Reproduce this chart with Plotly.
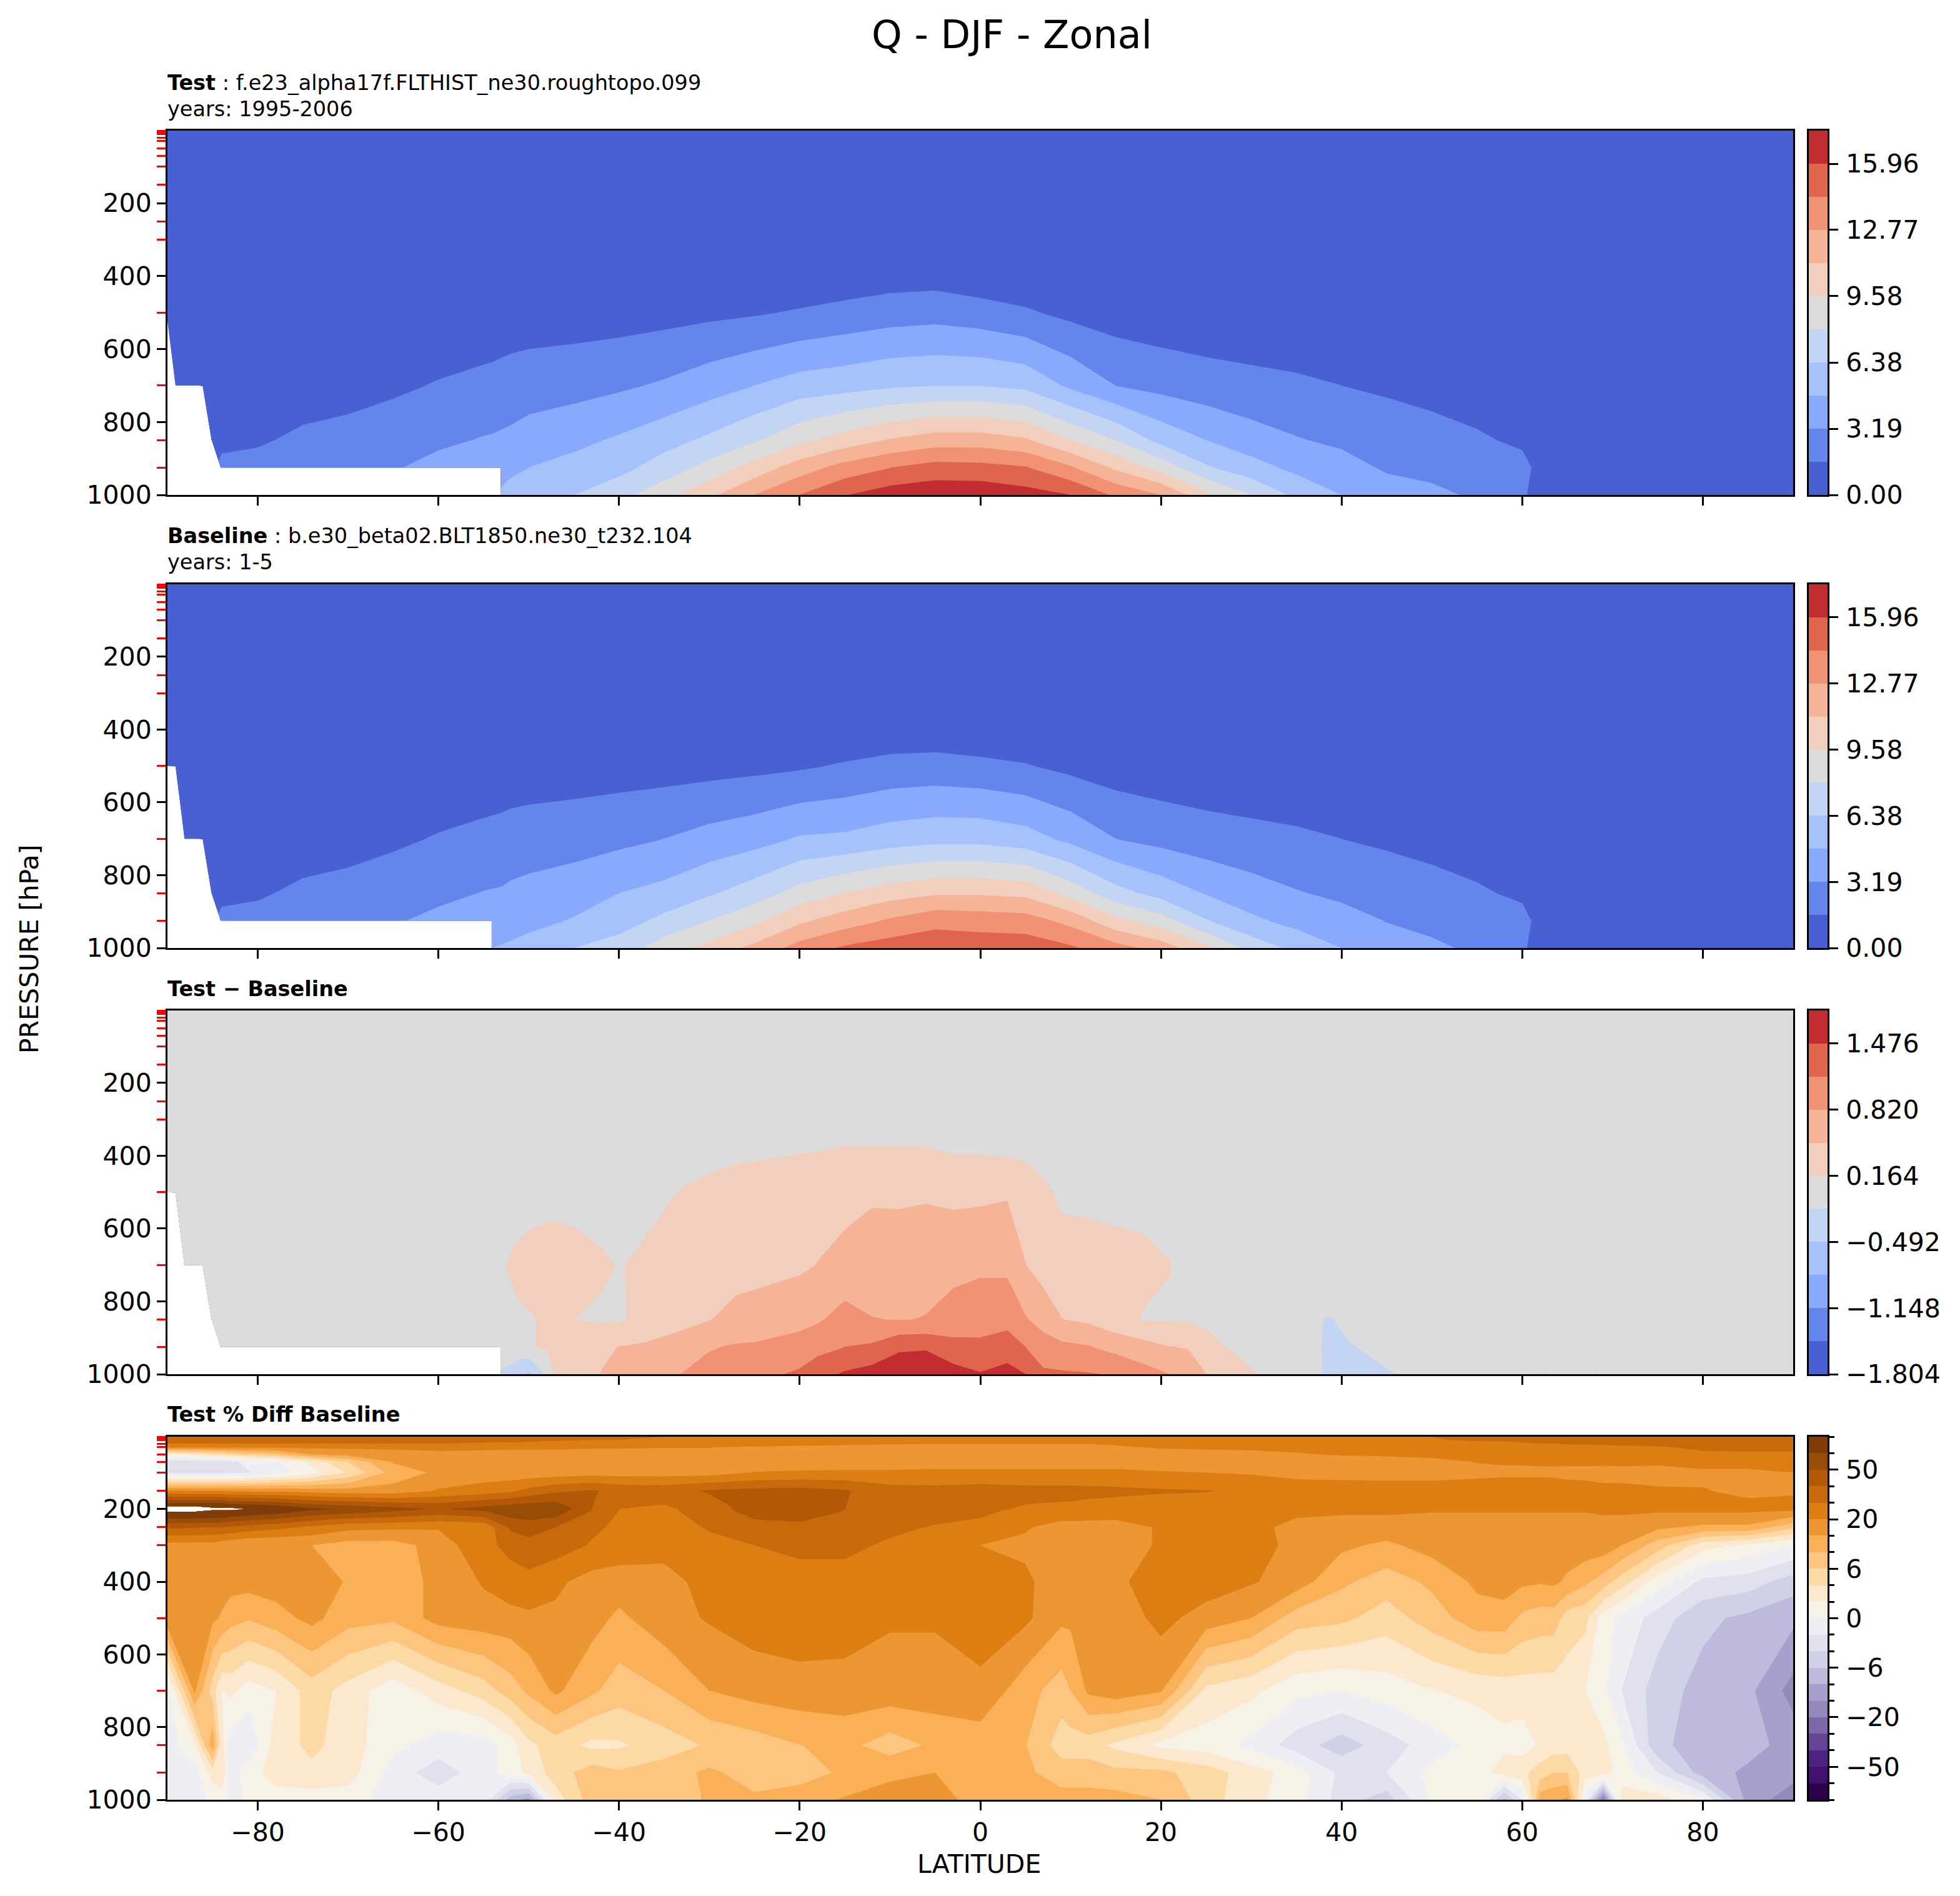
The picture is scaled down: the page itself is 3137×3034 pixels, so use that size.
import numpy as np
import plotly.graph_objects as go

W, H = 3137, 3034
PAGE_X, PAGE_Y = 8, 6  # the browser's body margin moves the whole figure by about this much

# pressure levels of the model grid (red ticks)
PLEV = [1, 2, 3, 5, 7, 10, 20, 30, 50, 70, 100, 150, 200, 250, 300, 400, 500, 700, 850, 925, 1000]
XTICKS = [-80, -60, -40, -20, 0, 20, 40, 60, 80]
YTICKS = [200, 400, 600, 800, 1000]

# --- Q panels: latitude grid and rows by pressure ---
LAT_Q = [-90, -89, -88, -87, -86, -85, -84, -80, -75, -70, -65, -60, -55, -54, -53, -52, -50,
         -45, -40, -35, -30, -25, -20, -15, -10, -5, 0, 5, 10, 15, 20, 25, 30, 35, 40, 45, 50,
         55, 60, 61, 62, 70, 80, 90]
Q_P = [1, 300, 400, 500, 700, 850, 925, 1000]

Q_1 = [0.0] * 44
Q_300 = [0.05] * 44
TEST_400 = [.05, .05, .05, .05, .05, .05, .05, .05, .05, .05, .05, .05, .08, .08, .09, .09, .1,
            .1, .1, .15, .2, .3, .4, .6, .85, .93, .55, .47, .1, .08, .07, .06, .06, .05, .05, .05, .05,
            .05, .05, .05, .05, .05, .05, .05]
TEST_500 = [.1, .1, .12, .12, .14, .14, .15, .2, .25, .25, .35, .45, .6, .65, .7, .75, .8,
            .85, .9, 1.05, 1.25, 1.45, 1.75, 2.1, 2.45, 2.6, 2.3, 1.8, 1.2, .8, .6, .5, .45, .4, .35, .3, .25,
            .2, .15, .14, .13, .1, .05, .05]
TEST_700 = [.3, .35, .4, .45, .5, .52, .55, .7, .95, 1.1, 1.35, 1.7, 2.0, 2.05, 2.15, 2.25, 2.4,
            2.6, 2.95, 3.4, 4.1, 4.8, 5.5, 5.8, 6.2, 6.38, 6.38, 6.0, 4.5, 3.19, 2.7, 2.3, 2.05, 1.85, 1.6, 1.35, 1.15,
            1.0, .7, .65, .6, .4, .2, .15]
TEST_850 = [1.0, 1.05, 1.1, 1.15, 1.2, 1.25, 1.3, 1.45, 1.85, 2.05, 2.4, 2.9, 3.3, 3.35, 3.45, 3.55, 3.9,
            4.4, 5.0, 5.8, 6.7, 7.8, 9.2, 10.3, 11.3, 12.0, 12.0, 11.4, 9.58, 7.98, 5.9, 4.8, 3.9, 3.3, 2.9, 2.5, 2.1,
            1.75, 1.4, 1.25, 1.2, .9, .5, .4]
TEST_925 = [1.5, 1.55, 1.6, 1.7, 1.75, 1.85, 1.9, 2.0, 2.35, 2.6, 3.05, 3.7, 4.1, 4.2, 4.3, 4.55, 4.79,
            5.3, 5.9, 7.1, 8.5, 10.2, 12.0, 13.4, 14.36, 15.0, 14.9, 14.5, 13.0, 10.9, 9.0, 6.6, 5.4, 4.4, 3.8, 3.0, 2.8,
            2.4, 1.95, 1.6, 1.45, 1.1, .7, .6]
TEST_1000 = [1.7, 1.7, 1.8, 1.9, 1.9, 2.0, 2.1, 2.4, 2.8, 3.2, 3.7, 4.4, 4.8, 4.9, 5.0, 5.2, 5.6,
             6.38, 7.4, 9.0, 10.8, 12.8, 14.4, 15.9, 16.8, 17.1, 17.1, 16.6, 15.96, 14.1, 12.77, 10.0, 7.98, 6.0, 4.79, 3.95, 3.5,
             3.0, 1.7, 1.5, 1.4, 1.2, .8, .7]

BASE_400 = [.05, .05, .05, .05, .05, .05, .05, .05, .05, .05, .05, .05, .08, .08, .08, .09, .1,
            .1, .1, .1, .15, .2, .3, .4, .55, .6, .4, .35, .1, .08, .07, .06, .06, .05, .05, .05, .05,
            .05, .05, .05, .05, .05, .05, .05]
BASE_500 = [.1, .1, .12, .12, .14, .14, .15, .2, .25, .25, .35, .45, .6, .65, .7, .75, .8,
            .85, .9, .95, 1.05, 1.2, 1.4, 1.75, 2.1, 2.2, 2.0, 1.7, 1.2, .8, .6, .5, .45, .4, .35, .3, .25,
            .2, .15, .14, .13, .1, .05, .05]
BASE_700 = [.3, .35, .4, .45, .5, .52, .55, .7, .95, 1.1, 1.35, 1.7, 2.0, 2.05, 2.1, 2.2, 2.3,
            2.5, 2.8, 3.2, 3.75, 4.2, 4.95, 5.1, 5.6, 5.9, 5.9, 5.45, 4.4, 3.2, 2.7, 2.3, 2.05, 1.85, 1.6, 1.35, 1.15,
            1.0, .7, .65, .6, .4, .2, .15]
BASE_850 = [1.0, 1.05, 1.1, 1.15, 1.2, 1.25, 1.3, 1.45, 1.85, 2.05, 2.4, 2.85, 3.25, 3.3, 3.35, 3.5, 3.7,
            4.1, 4.8, 5.3, 6.2, 7.2, 8.6, 9.6, 10.5, 11.0, 11.0, 10.8, 9.0, 7.0, 5.8, 4.7, 3.9, 3.3, 2.9, 2.5, 2.1,
            1.75, 1.4, 1.25, 1.2, .9, .5, .4]
BASE_925 = [1.5, 1.55, 1.6, 1.7, 1.75, 1.85, 1.9, 2.0, 2.35, 2.6, 3.05, 3.55, 3.95, 4.0, 4.1, 4.2, 4.4,
            4.9, 5.7, 6.8, 8.0, 9.2, 10.9, 12.0, 13.0, 13.9, 13.7, 13.5, 12.3, 10.0, 8.7, 6.5, 5.1, 4.3, 3.75, 3.15, 2.8,
            2.4, 1.95, 1.6, 1.45, 1.1, .7, .6]
BASE_1000 = [1.7, 1.7, 1.8, 1.9, 1.9, 2.0, 2.1, 2.4, 2.8, 3.2, 3.7, 4.2, 4.7, 4.8, 4.9, 5.0, 5.3,
             6.38, 7.1, 8.8, 10.1, 11.6, 13.4, 14.6, 15.2, 15.4, 15.3, 15.3, 14.6, 13.4, 12.1, 9.9, 7.4, 5.9, 4.79, 3.9, 3.45,
             2.95, 1.7, 1.5, 1.4, 1.2, .8, .7]

# --- Test - Baseline ---
LAT_D = [-90, -89, -88, -87, -86, -85, -84, -60, -54, -53, -52, -51, -50, -49, -48, -47, -45,
         -42, -40, -39, -37, -33, -30, -27, -25, -20, -18, -15, -12, -9, -6, -3, 0, 3, 5, 7, 9,
         12, 15, 18, 21, 23, 25, 28, 31, 37, 38, 39, 41, 44, 46, 48, 62, 62.5, 63, 67.5, 68.2, 69, 90]
D_1 = [0.0] * 59
D_300 = [0.02] * 59
D_400 = [.02] * 17 + [.02, .02, .02, .03, .05, .09, .13, .14, .17, .18, .22, .22, .22, .21, .17,
                      .17, .15, .13, .06, .03, .03, .03, .02, .02, .02] + [.02] * 17
D_500 = [.02] * 8 + [.02, .02, .03, .03, .04, .05, .07, .08, .05, .05, .05, .06, .08, .18,
                     .24, .28, .3, .33, .35, .4, .45, .43, .45, .42, .43, .46, .35, .23, .11,
                     .11, .09, .08, .07, .05, .04, .03, .03, .02, .02] + [.02] * 12
D_700 = [.02] * 8 + [.05, .14, .19, .24, .27, .3, .3, .29, .29, .2, .155, .17, .22, .3,
                     .37, .36, .38, .44, .5, .58, .65, .7, .72, .72, .75, .75, .5, .36, .3,
                     .26, .25, .23, .17, .1, .05, .03, .03, .02, .02] + [.02] * 12
D_850 = [.02] * 8 + [.03, .05, .1, .13, .14, .17, .2, .2, .165, .13, .13, .17, .22, .39,
                     .48, .6, .63, .72, .78, .95, .83, .81, .83, .96, 1.05, 1.05, .85, .68, .5,
                     .43, .27, .15, .14, .13, .12, .08, .03, .02, -.17,
                     -.17, -.05, 0, 0, 0] + [.02] * 7
D_925 = [.02] * 8 + [0, 0, 0, .03, .1, .18, .2, .22, .3, .43, .5, .51, .55, .65,
                     .8, .85, .86, .95, 1.05, 1.15, 1.2, 1.42, 1.44, 1.25, 1.2, 1.3, 1.15, .98, .9,
                     .84, .72, .62, .5, .48, .25, .13, .05, .03, -.22,
                     -.25, -.18, -.1, -.05, 0] + [.02] * 7
D_1000 = [.02] * 8 + [-.1, -.2, -.25, -.4, -.55, -.3, -.1, .19, .32, .5, .58, .6, .68, .83,
                      .92, 1.0, 1.05, 1.2, 1.35, 1.52, 1.62, 1.72, 1.75, 1.62, 1.5, 1.6, 1.48, 1.2, 1.19,
                      1.17, 1.12, .95, .82, .65, .5, .33, .15, .05, -.2,
                      -.28, -.3, -.22, -.164, -.03, .03, .2, .03, 0, -.2, 0, .02]

# --- Test % Diff Baseline ---
LAT_P = [-90, -87, -85, -84, -83, -81, -78, -74, -70, -65, -60, -55, -52, -50, -47,
         -43, -40, -35, -30, -25, -20, -15, -10, -5, 0, 5, 9, 10, 12, 15,
         20, 25, 30, 35, 40, 45, 50, 55, 58, 60, 62, 63.5, 65, 67, 69, 71, 75, 80, 85, 90]
P_P = [1, 10, 20, 30, 50, 70, 100, 150, 200, 250, 300, 400, 500, 700, 850, 925, 1000]
P_1 = [37, 37, 37, 37, 37, 37, 36, 36, 35, 35, 34, 33, 33, 32, 32, 31, 31, 30, 30, 29, 28, 27, 26, 25, 25,
       25, 25, 25, 25, 26, 27, 27, 28, 28, 29, 29, 30, 31, 32, 33, 33, 33, 34, 34, 35, 35, 36, 37, 38, 38]
P_10 = [35, 35, 35, 35, 35, 35, 35, 34, 34, 34, 34, 33, 32, 32, 31, 30, 30, 29, 28, 27, 26, 25, 24, 23, 23,
        23, 23, 23, 23, 24, 25, 25, 26, 27, 28, 29, 29.5, 31, 31, 32, 32, 32, 33, 33, 33, 33, 34, 36, 37, 37]
P_20 = [30, 30, 30, 30, 30, 30, 30, 30, 30, 30, 30, 29, 29, 28, 27, 26, 26, 25, 25, 24, 23, 22, 21, 20.5, 20.5,
        20.5, 20.5, 20.5, 20.5, 21, 23, 23, 24, 25, 26, 26.5, 27, 28, 28.5, 29, 30, 30, 31, 31, 32, 32, 33, 36, 37, 37]
P_30 = [22, 22, 22, 22, 22, 22, 22, 22, 22, 22, 22, 21.5, 21, 21, 21, 20.5, 20.5, 20.2, 20.2, 19.5, 19, 18.5, 18, 18, 18,
        18, 18, 18, 18, 19.5, 21, 22, 23, 23, 24, 24.5, 25, 25.5, 26, 26, 26, 26.5, 27, 27, 27, 28, 29, 32, 33, 33]
P_50 = [1, 3, 4, 4, 5, 6, 8, 15, 17, 18, 19, 19, 19, 19, 19, 19, 19, 19, 19, 18, 18, 18, 18, 18, 18,
        18, 18, 18, 18, 18, 18, 18, 18, 19.5, 21, 22, 24, 24, 25, 25, 25, 25, 25, 26, 26, 26, 27, 28, 28, 28]
P_70 = [-3, -3, -3, -3, -2.3, -1.6, -.5, 2.6, 6, 15.5, 16, 17, 17, 17, 17, 17, 17, 17, 17, 17, 17, 17, 17, 17, 17,
        17, 17, 17, 17, 17, 17, 17, 17, 17, 17, 17, 18, 20.5, 21, 21, 21.5, 21.5, 22, 22, 22.5, 23, 23, 24, 24, 24]
P_100 = [-2.5, -2.5, -2.5, -2.5, -2.3, -2.1, -1, 1.2, 4.2, 12, 16, 17, 17, 17, 17.5, 18, 18, 18, 18, 20.5, 21.5, 22, 22, 23, 23,
         23, 23, 23, 23, 23, 21, 20, 19.5, 18, 18, 18, 18, 18.5, 19, 19, 19, 19, 18.5, 18.5, 18, 18, 17, 19, 19, 20]
P_150 = [21, 20, 20, 20, 19, 19, 19, 18, 17, 17, 21, 25, 28, 33, 38, 41, 37, 36, 41, 43, 44, 41, 34, 33, 34,
         33, 33, 33, 32.5, 32, 31, 30.5, 28, 27, 26, 25, 25, 26, 26, 26, 26, 25, 25, 24, 23, 23, 22, 20.5, 19, 19.5]
P_200 = [150, 150, 150, 150, 125, 120, 100, 80, 72, 60, 49, 60, 68, 70, 70, 40, 30, 28, 35, 45, 45, 40, 35, 36, 32,
         29, 28, 28, 27, 26, 25, 24, 23, 22, 22, 22, 21, 21, 21, 21, 21, 21, 21, 21, 22, 22, 22, 23, 23, 23]
P_250 = [42, 41, 40, 40, 39, 36, 33, 28, 23, 22, 21, 22, 42, 45, 40, 32, 28, 25, 31, 36, 38, 37, 33, 29, 28,
         21, 18, 18, 18, 18, 21, 25, 22, 19, 18, 18, 18, 18, 18, 18, 18, 18, 18, 18, 18, 18, 16, 14, 14, 7]
P_300 = [18, 18, 18, 17, 16, 15, 15, 15, 13, 13, 17, 28, 32, 36, 35, 29, 26, 22, 27, 30, 33, 33, 28, 24, 20,
         19, 18, 18, 18, 18, 21, 27, 26, 18, 16, 14, 17, 18, 18, 19, 19, 18, 18, 18, 18, 15, 8, 2.8, 1.5, 0]
P_400 = [17, 17, 17, 17, 17, 17, 17.5, 18, 14.5, 13, 16, 21, 27, 27, 22, 18, 17.5, 19, 22, 27, 25, 25, 25, 25, 26,
         22, 17, 17, 17, 19, 25, 25, 21, 17.5, 11, 8, 11, 16, 17, 16, 15.5, 16, 14, 11, 8, 5, 1, -2.5, -3, -5]
P_500 = [19, 17, 16, 14.5, 12, 10.5, 13, 16.5, 12, 11, 17, 18, 18, 19, 19, 17, 14, 18, 21, 25, 26, 25, 21, 21, 24,
         22, 16, 16, 16, 17, 23, 18, 15, 8, 7, 5, 8, 13, 13, 9, 8, 8, 5, 4.5, 1, -.5, -3, -5.5, -7, -9]
P_700 = [-1, 16, 5, 2, 2.5, 1, 2, 5, 3.2, .7, 3, 5, 8, 11, 16, 11, 8, 10, 15, 17, 18, 18, 18, 18, 19,
         12, 8, 10, 16, 18, 15.5, 3.5, 2.5, .5, 0, 1, 1.9, 2.5, 2.8, 3, 3, 3, 3, 2, .5, -2, -5, -7.5, -9, -17]
P_850 = [-1, 1.5, 14, 3, -1, -1.9, 3, 4.5, 3, .5, -1, -1, 1, 3.5, 5, 3.5, 3.7, 5, 6.5, 8, 9.9, 11.5, 8, 11, 12,
         10.2, 5, 5, 5, 3.5, 1.5, 1, -.5, -3, -5, -3, -1, .7, 1.5, 1, 2.3, 3, 3, 3, 2.5, .5, -5.5, -8, -8.5, -12]
P_925 = [-1, -1, 3, 4, -1, 1, 3, 3.5, 3, -1, -3, -1, 1, 2.5, 5, 8, 6.5, 8, 11, 8, 8, 11, 14, 15, 11,
         11, 8, 8, 8, 7, 7, 5, 3, 1, -2.5, -2, .5, 1, 3, 3.5, 5, 6, 6, 3, 3, 1, -2, -8, -11, -13]
P_1000 = [-1, -1, .5, .7, -1, .5, 1, 1, 1, -1, -1, -1, -8, -12, 3, 8, 8, 8, 10.5, 11, 13, 15.5, 17, 16, 14,
          13, 12, 12, 12, 12, 10, 5, 2.5, 1, -3, -5, .5, 1.5, -7, -2, 13, 14, 16, -1, -20, 3, 3, 0, -12, -18]
PCT_LEVELS = [-100, -75, -50, -40, -30, -20, -15, -10, -6, -4, -2, 0, 2, 4, 6, 10, 15, 20, 30, 40, 50, 75, 100, 200]
PCT_POS = list(range(23)) + [24]
PCT_TICKS = [2, 5, 8, 11, 14, 17, 20]
PCT_LABELS = ['−50', '−20', '−6', '0', '6', '20', '50']

COOLWARM = ['#4860D1', '#6485EC', '#88A9FC', '#A6C2FD', '#C3D5F2', '#DBDCDB',
            '#F2CEBC', '#F5B497', '#F29274', '#E0654F', '#C22D31']
PUOR = ['#2D004B', '#40116E', '#512285', '#654597', '#7C67A9', '#9489BA', '#A8A0CC', '#BEBADB', '#D0D1E6',
        '#E1E1EE', '#EEEFF4', '#F7F2E8', '#FCE8CE', '#FDD9A6', '#FDC57F', '#F9B057', '#EC9734', '#DC7E12',
        '#C76A0B', '#B35806', '#984D07', '#7F3B08']

FONT = 'DejaVu Sans'
LEFT, RIGHT = 268, 2870
CB_LEFT, CB_RIGHT = 2895, 2925
PANELS = [(207, 790), (933, 1515), (1615, 2197), (2297, 2878)]  # top, bottom in pixels


def xf(px):
    return (px - PAGE_X) / W


def yf(px):
    return 1 - (px - PAGE_Y) / H


def contour_scale(colors):
    # stepped scale: plotly centres each band on (k + 1) / (n + 1)
    n = len(colors)
    scale = []
    for k, c in enumerate(colors):
        lo = 0 if k == 0 else (k + 0.5) / (n + 1)
        hi = 1 if k == n - 1 else (k + 1.5) / (n + 1)
        scale += [[lo, c], [hi, c]]
    return scale


def bar_scale(colors):
    n = len(colors)
    scale = []
    for k, c in enumerate(colors):
        scale += [[k / n, c], [(k + 1) / n, c]]
    return scale


def mask_rows(rows, plevs, lats, edges):
    # white topography: copies a row just below a level and blanks what lies under the surface
    out_p, out_z = [], []
    for p, row in zip(plevs, rows):
        for q in ([p, p + 1] if p in (500, 700, 925) else [p]):
            first = edges.get(q, -90)
            out_p.append(q)
            out_z.append([v if la >= first else None for v, la in zip(row, lats)])
    return out_p, out_z


EDGES_TEST = {700: -89, 701: -86, 850: -85, 925: -84, 926: -53, 1000: -53}
EDGES_BASE = {501: -89, 700: -88, 701: -86, 850: -85, 925: -84, 926: -54, 1000: -54}
EDGES_DIFF = {501: -89, 700: -88, 701: -86, 850: -85, 925: -84, 926: -53, 1000: -53}

test_p, test_z = mask_rows([Q_1, Q_300, TEST_400, TEST_500, TEST_700, TEST_850, TEST_925, TEST_1000],
                           Q_P, LAT_Q, EDGES_TEST)
base_p, base_z = mask_rows([Q_1, Q_300, BASE_400, BASE_500, BASE_700, BASE_850, BASE_925, BASE_1000],
                           Q_P, LAT_Q, EDGES_BASE)
diff_p, diff_z = mask_rows([D_1, D_300, D_400, D_500, D_700, D_850, D_925, D_1000],
                           Q_P, LAT_D, EDGES_DIFF)

# percent values go to band position, since the levels are not evenly spaced
pct = np.array([P_1, P_10, P_20, P_30, P_50, P_70, P_100, P_150, P_200, P_250, P_300,
                P_400, P_500, P_700, P_850, P_925, P_1000], dtype=float)
pct_idx = np.interp(pct.ravel(), PCT_LEVELS, PCT_POS).reshape(pct.shape)

# above 100 % is blank: a thin wedge at 200 hPa near the pole, so helper rows hold the edge close
i200 = P_P.index(200)
lat_p = np.array(LAT_P)
below, at, above = pct_idx[i200 - 1], pct_idx[i200].copy(), pct_idx[i200 + 1]
row_192 = below + (at - below) * 42 / 50
row_196 = below + (at - below) * 46 / 50
row_204 = at + (above - at) * 4 / 50
row_208 = at + (above - at) * 8 / 50
row_196[lat_p <= -87] = np.nan
row_204[lat_p <= -87] = np.nan
at[lat_p <= -83] = np.nan
pct_z = np.vstack([pct_idx[:i200], row_192, row_196, at, row_204, row_208, pct_idx[i200 + 1:]])
pct_p = P_P[:i200] + [192, 196, 200, 204, 208] + P_P[i200 + 1:]

STEP_Q = 1.596
STEP_D = 0.328
Q_TICKS = [0, 3.19, 6.38, 9.58, 12.77, 15.96]
Q_LABELS = ['0.00', '3.19', '6.38', '9.58', '12.77', '15.96']
TRACES = [
    dict(x=LAT_Q, y=test_p, z=test_z, start=0, end=STEP_Q * 11, size=STEP_Q, colors=COOLWARM,
         tickvals=Q_TICKS, ticktext=Q_LABELS),
    dict(x=LAT_Q, y=base_p, z=base_z, start=0, end=STEP_Q * 11, size=STEP_Q, colors=COOLWARM,
         tickvals=Q_TICKS, ticktext=Q_LABELS),
    dict(x=LAT_D, y=diff_p, z=diff_z, start=-1.804, end=1.804, size=STEP_D, colors=COOLWARM,
         tickvals=[-1.804, -1.148, -0.492, 0.164, 0.82, 1.476],
         ticktext=['−1.804', '−1.148', '−0.492', '0.164', '0.820', '1.476']),
    dict(x=LAT_P, y=pct_p, z=pct_z, start=0, end=22, size=1, colors=PUOR,
         tickvals=PCT_TICKS, ticktext=PCT_LABELS, minor=list(range(23))),
]

TICK_FONT = dict(family=FONT, size=41, color='black')
fig = go.Figure()
layout = {}
for i, (t, (top, bottom)) in enumerate(zip(TRACES, PANELS), start=1):
    fig.add_trace(go.Contour(
        x=t['x'], y=t['y'], z=t['z'],
        xaxis=f'x{i}', yaxis=f'y{i}',
        autocontour=False, connectgaps=False, showscale=False,
        contours=dict(start=t['start'], end=t['end'], size=t['size'], coloring='fill', showlines=False),
        line=dict(width=0, smoothing=0),
        colorscale=contour_scale(t['colors']),
        hoverinfo='skip',
    ))
    layout[f'xaxis{i}'] = dict(
        domain=[xf(LEFT), xf(RIGHT)], range=[-90, 90], anchor=f'y{i}',
        tickmode='array', tickvals=XTICKS, showticklabels=i == 4,
        ticks='outside', ticklen=14, tickwidth=3, tickcolor='black', tickfont=TICK_FONT,
        showgrid=False, zeroline=False, showline=True, linewidth=3, linecolor='black', mirror=True,
    )
    layout[f'yaxis{i}'] = dict(
        domain=[yf(bottom), yf(top)], range=[1000, 1], anchor=f'x{i}',
        tickmode='array', tickvals=YTICKS,
        ticks='outside', ticklen=14, tickwidth=3, tickcolor='black', tickfont=TICK_FONT,
        minor=dict(tickmode='array', tickvals=PLEV, ticks='outside', ticklen=14, tickwidth=3, tickcolor='red'),
        showgrid=False, zeroline=False, showline=True, linewidth=3, linecolor='black', mirror=True,
    )

    # colorbar in its own small axes, so it runs exactly from the first level to the last
    j = i + 4
    n = len(t['colors'])
    edges = [t['start'] + k * t['size'] for k in range(n + 1)]
    fig.add_trace(go.Heatmap(
        x=[0, 1], y=edges, z=[[k] for k in range(n)],
        zmin=-0.5, zmax=n - 0.5, colorscale=bar_scale(t['colors']), showscale=False,
        xaxis=f'x{j}', yaxis=f'y{j}', hoverinfo='skip',
    ))
    layout[f'xaxis{j}'] = dict(
        domain=[xf(CB_LEFT), xf(CB_RIGHT)], range=[0, 1], anchor=f'y{j}', ticks='', showticklabels=False,
        showgrid=False, zeroline=False, showline=True, linewidth=3, linecolor='black', mirror=True,
    )
    cb_axis = dict(
        domain=[yf(bottom), yf(top)], range=[edges[0], edges[-1]], anchor=f'x{j}', side='right',
        tickmode='array', tickvals=t['tickvals'], ticktext=t['ticktext'], ticklabelstandoff=4,
        ticks='outside', ticklen=14, tickwidth=3, tickcolor='black', tickfont=TICK_FONT,
        showgrid=False, zeroline=False, showline=True, linewidth=3, linecolor='black', mirror=True,
    )
    if 'minor' in t:
        cb_axis['minor'] = dict(tickmode='array', tickvals=t['minor'], ticks='outside', ticklen=8,
                                tickwidth=3, tickcolor='black')
    layout[f'yaxis{j}'] = cb_axis


def note(text, x, y, size=33.5, angle=0, anchor='left'):
    return dict(text=text, xref='paper', yref='paper', x=xf(x), y=yf(y), xanchor=anchor, yanchor='middle',
                align='left', showarrow=False, textangle=angle, font=dict(family=FONT, size=size, color='black'))


annotations = [
    note('<b>Test</b> : f.e23_alpha17f.FLTHIST_ne30.roughtopo.099', LEFT - 2, 130),
    note('years: 1995-2006', LEFT - 2, 172),
    note('<b>Baseline</b> : b.e30_beta02.BLT1850.ne30_t232.104', LEFT - 2, 855),
    note('years: 1-5', LEFT - 2, 897),
    note('<b>Test − Baseline</b>', LEFT - 2, 1580),
    note('<b>Test % Diff Baseline</b>', LEFT - 2, 2261),
    note('LATITUDE', 1567, 2981, size=41, anchor='center'),
    note('PRESSURE [hPa]', 47, 1517, size=41, angle=-90, anchor='center'),
    note('Q - DJF - Zonal', 1619, 54, size=62, anchor='center'),
]

fig.update_layout(
    width=W, height=H,
    margin=dict(l=0, r=0, t=0, b=0, autoexpand=False),
    paper_bgcolor='white', plot_bgcolor='white',
    showlegend=False,
    annotations=annotations,
    **layout,
)

fig.write_html("out.html")
